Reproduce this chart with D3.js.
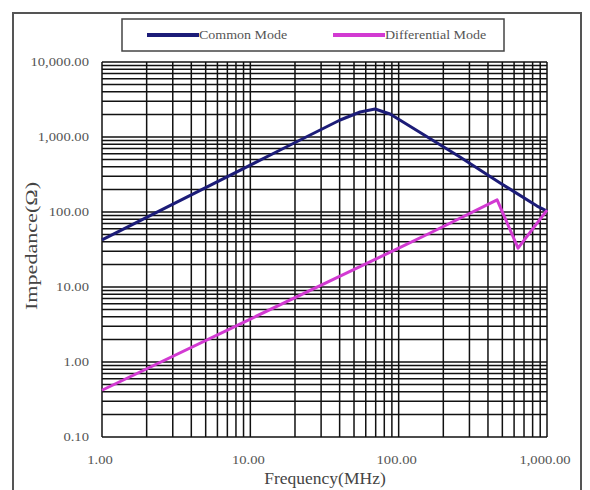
<!DOCTYPE html>
<html>
<head>
<meta charset="utf-8">
<script src="https://cdn.jsdelivr.net/npm/d3@7"></script>
<style>
  body { margin: 0; background: #fff; }
  svg text { font-family: "Liberation Serif", "Times New Roman", serif; }
</style>
</head>
<body>
<div id="chart"></div>
<script>
"use strict";

// values (MHz, Ohm)
var commonFreq = [1, 15.9, 40.3, 55, 69.3, 87.5, 259, 483, 857, 1000];
var commonZ    = [42.4, 671, 1686, 2154, 2362, 2026, 541, 244, 120, 103];
var diffFreq   = [1, 10, 100, 163, 461, 638, 1000];
var diffZ      = [0.42, 3.74, 33, 52.5, 145, 33, 106];
var xTicks = [1, 10, 100, 1000];
var xTickLabels = ["1.00", "10.00", "100.00", "1,000.00"];
var yTicks = [0.1, 1, 10, 100, 1000, 10000];
var yTickLabels = ["0.10", "1.00", "10.00", "100.00", "1,000.00", "10,000.00"];
var seriesNames = ["Common Mode", "Differential Mode"];
var seriesColors = ["#1c1c78", "#d23ad2"];

function initChart(element) {
  var width = 590, height = 490;
  var plotLeft = 102, plotRight = 547, plotTop = 62, plotBottom = 437;
  // the source picture is a little stretched sideways, so is its text
  var stretch = 1.22;

  var svg = d3.select(element).append("svg")
    .attr("width", width)
    .attr("height", height);

  var x = d3.scaleLog().domain([1, 1000]).range([plotLeft, plotRight]);
  var y = d3.scaleLog().domain([0.1, 10000]).range([plotBottom, plotTop]);

  // outer frame
  svg.append("rect")
    .attr("x", 13).attr("y", 13)
    .attr("width", 568).attr("height", 500)
    .style("fill", "none")
    .style("stroke", "#555")
    .style("stroke-width", 2);

  // minor + major grid lines (1..9 per decade)
  function decadeValues(lo, hi) {
    var out = [];
    for (var d = lo; d < hi; d *= 10) {
      for (var k = 1; k < 10; k++) out.push(d * k);
    }
    out.push(hi);
    return out;
  }
  var gx = decadeValues(1, 1000);
  var gy = decadeValues(0.1, 10000);

  var grid = svg.append("g").attr("class", "grid");
  grid.selectAll(".vline")
    .data(gx)
    .enter().append("line")
    .attr("x1", function(d) { return x(d); })
    .attr("x2", function(d) { return x(d); })
    .attr("y1", plotTop).attr("y2", plotBottom)
    .style("stroke", "#111")
    .style("stroke-width", 1.5);
  grid.selectAll(".hline")
    .data(gy)
    .enter().append("line")
    .attr("y1", function(d) { return y(d); })
    .attr("y2", function(d) { return y(d); })
    .attr("x1", plotLeft).attr("x2", plotRight)
    .style("stroke", "#111")
    .style("stroke-width", 1.5);

  // tick labels
  svg.selectAll(".ylabel")
    .data(yTicks)
    .enter().append("text")
    .attr("transform", function(d) { return "translate(89," + (y(d) + 4) + ") scale(" + stretch + ",1)"; })
    .attr("text-anchor", "end")
    .attr("font-size", 12)
    .style("fill", "#555")
    .text(function(d, i) { return yTickLabels[i]; });

  svg.selectAll(".xlabel")
    .data(xTicks)
    .enter().append("text")
    .attr("transform", function(d) { return "translate(" + (x(d) - 2) + ",464) scale(" + stretch + ",1)"; })
    .attr("text-anchor", "middle")
    .attr("font-size", 12)
    .style("fill", "#555")
    .text(function(d, i) { return xTickLabels[i]; });

  // axis titles
  svg.append("text")
    .attr("transform", "translate(325,484) scale(1.03,1)")
    .attr("text-anchor", "middle")
    .attr("font-size", 17)
    .style("fill", "#444")
    .text("Frequency(MHz)");

  svg.append("text")
    .attr("transform", "translate(37,246) rotate(-90) scale(1.3,1)")
    .attr("text-anchor", "middle")
    .attr("font-size", 17)
    .style("fill", "#444")
    .text("Impedance(Ω)");

  // series
  var line = d3.line()
    .x(function(d) { return x(d[0]); })
    .y(function(d) { return y(d[1]); });

  var series = [
    d3.zip(commonFreq, commonZ),
    d3.zip(diffFreq, diffZ)
  ];

  svg.selectAll(".series")
    .data(series)
    .enter().append("path")
    .attr("class", "series")
    .attr("d", line)
    .style("fill", "none")
    .style("stroke", function(d, i) { return seriesColors[i]; })
    .style("stroke-width", 3)
    .style("stroke-linejoin", "round");

  // legend
  var legendBox = svg.append("g").attr("class", "legend");
  legendBox.append("rect")
    .attr("x", 122).attr("y", 19)
    .attr("width", 382).attr("height", 32)
    .style("fill", "#fff")
    .style("stroke", "#444")
    .style("stroke-width", 1.5);

  var legendX = [147, 333];
  var legend = legendBox.selectAll(".entry")
    .data(seriesNames)
    .enter().append("g")
    .attr("class", "entry")
    .attr("transform", function(d, i) { return "translate(" + legendX[i] + ",35)"; });

  legend.append("line")
    .attr("x1", 0).attr("x2", 52)
    .attr("y1", 0).attr("y2", 0)
    .style("stroke", function(d, i) { return seriesColors[i]; })
    .style("stroke-width", 4);

  legend.append("text")
    .attr("transform", "translate(52,4) scale(1.12,1)")
    .attr("font-size", 12.5)
    .style("fill", "#555")
    .text(function(d) { return d; });
}

initChart(document.getElementById("chart"));
</script>
</body>
</html>
